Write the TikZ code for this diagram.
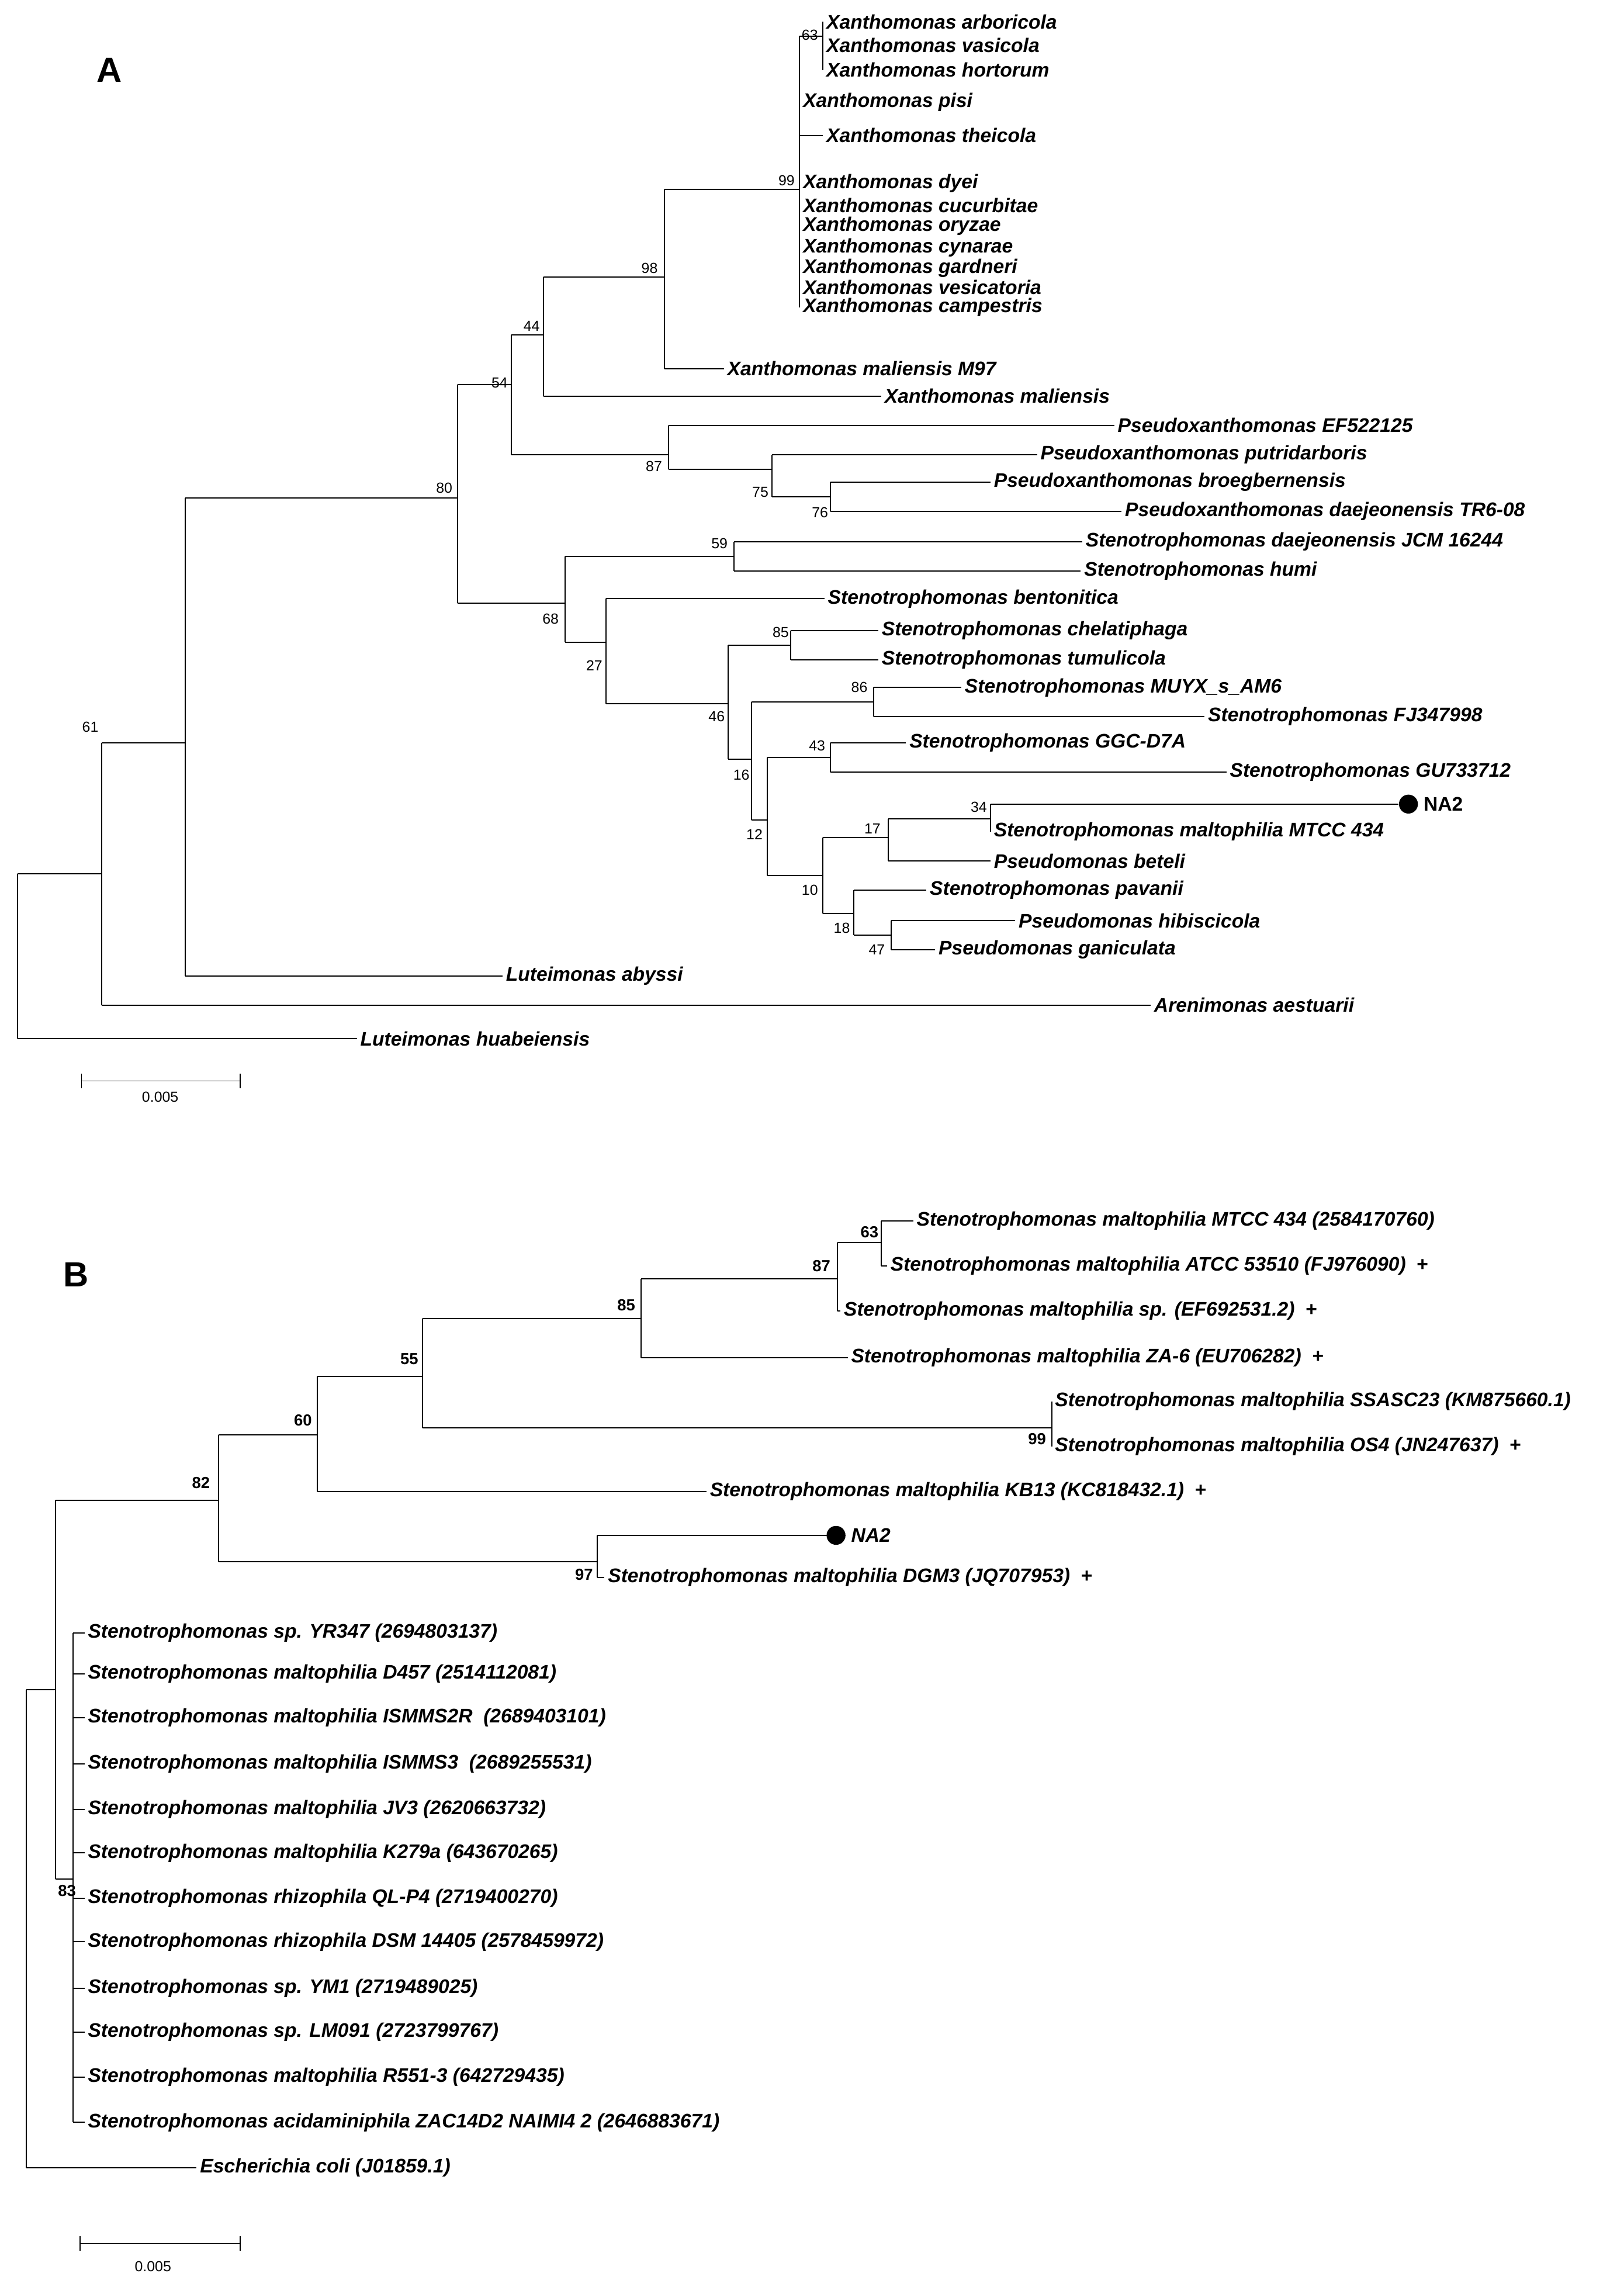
\documentclass[tikz,border=0pt]{standalone}
\usepackage{fontspec}
\setmainfont{Liberation Sans}
\begin{document}
\begin{tikzpicture}[x=1pt,y=-1pt,line width=0.8pt,
 lab/.style={anchor=west,font=\bfseries\itshape\fontsize{13.5}{15}\selectfont,inner sep=2pt},
 bsa/.style={font=\fontsize{10}{11}\selectfont,inner sep=0pt},
 bsb/.style={font=\bfseries\fontsize{11}{12}\selectfont,inner sep=0pt}]
\useasboundingbox (0,0) rectangle (1115,1570);
\newcommand\br[4]{\draw (#1,#2) -- (#3,#2) node[lab] {#4};}
\newcommand\hl[3]{\draw (#1,#2) -- (#3,#2);}
\newcommand\vl[3]{\draw (#1,#2) -- (#1,#3);}
\newcommand\ba[3]{\node[bsa] at (#1,#2) {#3};}
\newcommand\bb[3]{\node[bsb] at (#1,#2) {#3};}
% ---------- A ----------
\node[font=\bfseries\fontsize{24}{26}\selectfont] (A) at (75,48) {A};
\vl{12}{600}{713} \br{12}{713}{245}{Luteimonas huabeiensis}
\hl{12}{600}{70} \vl{70}{510}{690} \ba{62}{499}{61}
\br{70}{690}{790}{Arenimonas aestuarii}
\hl{70}{510}{127} \vl{127}{342}{670}
\br{127}{670}{345}{Luteimonas abyssi}
\hl{127}{342}{314} \ba{305}{335}{80} \vl{314}{264}{414}
\hl{314}{264}{351} \ba{343}{263}{54} \vl{351}{230}{312}
\hl{351}{230}{373} \ba{365}{224}{44} \vl{373}{190}{272}
\hl{373}{190}{456} \ba{446}{184}{98} \vl{456}{130}{253}
\br{456}{253}{497}{Xanthomonas maliensis M97}
\br{373}{272}{605}{Xanthomonas maliensis}
\hl{456}{130}{549} \ba{540}{124}{99} \vl{549}{25}{211}
\hl{549}{25}{565} \ba{556}{24}{63} \vl{565}{15}{48}
\br{565}{15}{565}{Xanthomonas arboricola}
\br{565}{31}{565}{Xanthomonas vasicola}
\br{565}{48}{565}{Xanthomonas hortorum}
\br{549}{70}{549}{Xanthomonas pisi}
\br{549}{93}{565}{Xanthomonas theicola}
\br{549}{126}{549}{Xanthomonas dyei}
\br{549}{141}{549}{Xanthomonas cucurbitae}
\br{549}{155}{549}{Xanthomonas oryzae}
\br{549}{170}{549}{Xanthomonas cynarae}
\br{549}{184}{549}{Xanthomonas gardneri}
\br{549}{197}{549}{Xanthomonas vesicatoria}
\br{549}{211}{549}{Xanthomonas campestris}
\hl{351}{312}{459} \ba{449}{320}{87} \vl{459}{292}{322}
\br{459}{292}{765}{Pseudoxanthomonas EF522125}
\hl{459}{322}{530} \ba{522}{338}{75} \vl{530}{312}{341}
\br{530}{312}{712}{Pseudoxanthomonas putridarboris}
\hl{530}{341}{570} \ba{563}{352}{76} \vl{570}{331}{351}
\br{570}{331}{680}{Pseudoxanthomonas broegbernensis}
\br{570}{351}{770}{Pseudoxanthomonas daejeonensis TR6-08}
\hl{314}{414}{388} \ba{378}{425}{68} \vl{388}{382}{441}
\hl{388}{382}{504} \ba{494}{373}{59} \vl{504}{372}{392}
\br{504}{372}{743}{Stenotrophomonas daejeonensis JCM 16244}
\br{504}{392}{742}{Stenotrophomonas humi}
\hl{388}{441}{416} \ba{408}{457}{27} \vl{416}{411}{483}
\br{416}{411}{566}{Stenotrophomonas bentonitica}
\hl{416}{483}{500} \ba{492}{492}{46} \vl{500}{443}{521}
\hl{500}{443}{543} \ba{536}{434}{85} \vl{543}{433}{453}
\br{543}{433}{603}{Stenotrophomonas chelatiphaga}
\br{543}{453}{603}{Stenotrophomonas tumulicola}
\hl{500}{521}{516} \ba{509}{532}{16} \vl{516}{482}{563}
\hl{516}{482}{600} \ba{590}{472}{86} \vl{600}{472}{492}
\br{600}{472}{660}{Stenotrophomonas MUYX\_s\_AM6}
\br{600}{492}{827}{Stenotrophomonas FJ347998}
\hl{516}{563}{527} \ba{518}{573}{12} \vl{527}{520}{601}
\hl{527}{520}{570} \ba{561}{512}{43} \vl{570}{510}{530}
\br{570}{510}{622}{Stenotrophomonas GGC-D7A}
\br{570}{530}{842}{Stenotrophomonas GU733712}
\hl{527}{601}{565} \ba{556}{611}{10} \vl{565}{575}{627}
\hl{565}{575}{610} \ba{599}{569}{17} \vl{610}{562}{591}
\hl{610}{562}{680} \ba{672}{554}{34} \vl{680}{552}{571}
\hl{680}{552}{960}
\fill (967,552) circle (6.5);
\node[lab,font=\bfseries\fontsize{13.5}{15}\selectfont] (na2a) at (975,552) {NA2};
\br{680}{571}{680}{Stenotrophomonas maltophilia MTCC 434}
\br{610}{591}{680}{Pseudomonas beteli}
\hl{565}{627}{586} \ba{578}{637}{18} \vl{586}{611}{642}
\br{586}{611}{636}{Stenotrophomonas pavanii}
\hl{586}{642}{612} \ba{602}{652}{47} \vl{612}{632}{652}
\br{612}{632}{697}{Pseudomonas hibiscicola}
\br{612}{652}{642}{Pseudomonas ganiculata}
\draw[line width=0.6pt] (56,742)--(165,742) (56,737)--(56,747) (165,737)--(165,747);
\node[font=\fontsize{10}{11}\selectfont] (sa) at (110,753) {0.005};
% ---------- B ----------
\node[font=\bfseries\fontsize{24}{26}\selectfont] (B) at (52,875) {B};
\vl{18}{1160}{1488} \br{18}{1488}{135}{Escherichia coli (J01859.1)}
\hl{18}{1160}{38} \vl{38}{1030}{1290}
\hl{38}{1290}{50} \bb{46}{1298}{83} \vl{50}{1121}{1457}
\foreach \y/\t in {1121/Stenotrophomonas sp. YR347 (2694803137),
 1149/Stenotrophomonas maltophilia D457 (2514112081),
 1179/Stenotrophomonas maltophilia ISMMS2R\ \ (2689403101),
 1211/Stenotrophomonas maltophilia ISMMS3\ \ (2689255531),
 1242/Stenotrophomonas maltophilia JV3 (2620663732),
 1272/Stenotrophomonas maltophilia K279a (643670265),
 1303/Stenotrophomonas rhizophila QL-P4 (2719400270),
 1333/Stenotrophomonas rhizophila DSM 14405 (2578459972),
 1365/Stenotrophomonas sp. YM1 (2719489025),
 1395/Stenotrophomonas sp. LM091 (2723799767),
 1426/Stenotrophomonas maltophilia R551-3 (642729435),
 1457/Stenotrophomonas acidaminiphila ZAC14D2 NAIMI4 2 (2646883671)}
 {\draw (50,\y) -- (58,\y) node[lab] {\t};}
\hl{38}{1030}{150} \bb{138}{1018}{82} \vl{150}{985}{1072}
\hl{150}{985}{218} \bb{208}{975}{60} \vl{218}{945}{1024}
\hl{218}{945}{290} \bb{281}{933}{55} \vl{290}{905}{980}
\hl{290}{905}{440} \bb{430}{896}{85} \vl{440}{878}{932}
\hl{440}{878}{575} \bb{564}{869}{87} \vl{575}{853}{900}
\hl{575}{853}{605} \bb{597}{846}{63} \vl{605}{838}{869}
\br{605}{838}{627}{Stenotrophomonas maltophilia MTCC 434 (2584170760)}
\br{605}{869}{609}{Stenotrophomonas maltophilia ATCC 53510 (FJ976090)\ \ {\upshape +}}
\br{575}{900}{577}{Stenotrophomonas maltophilia sp. (EF692531.2)\ \ {\upshape +}}
\br{440}{932}{582}{Stenotrophomonas maltophilia ZA-6 (EU706282)\ \ {\upshape +}}
\hl{290}{980}{722} \bb{712}{988}{99} \vl{722}{962}{993}
\br{722}{962}{722}{Stenotrophomonas maltophilia SSASC23 (KM875660.1)}
\br{722}{993}{722}{Stenotrophomonas maltophilia OS4 (JN247637)\ \ {\upshape +}}
\br{218}{1024}{485}{Stenotrophomonas maltophilia KB13 (KC818432.1)\ \ {\upshape +}}
\hl{150}{1072}{410} \bb{401}{1081}{97} \vl{410}{1054}{1083}
\hl{410}{1054}{568}
\fill (574,1054) circle (6.5);
\node[lab,font=\bfseries\itshape\fontsize{13.5}{15}\selectfont] (na2b) at (582,1054) {NA2};
\br{410}{1083}{415}{Stenotrophomonas maltophilia DGM3 (JQ707953)\ \ {\upshape +}}
\draw[line width=0.6pt] (55,1540)--(165,1540) (55,1535)--(55,1545) (165,1535)--(165,1545);
\node[font=\fontsize{10}{11}\selectfont] (sb) at (105,1556) {0.005};
\end{tikzpicture}
\end{document}
